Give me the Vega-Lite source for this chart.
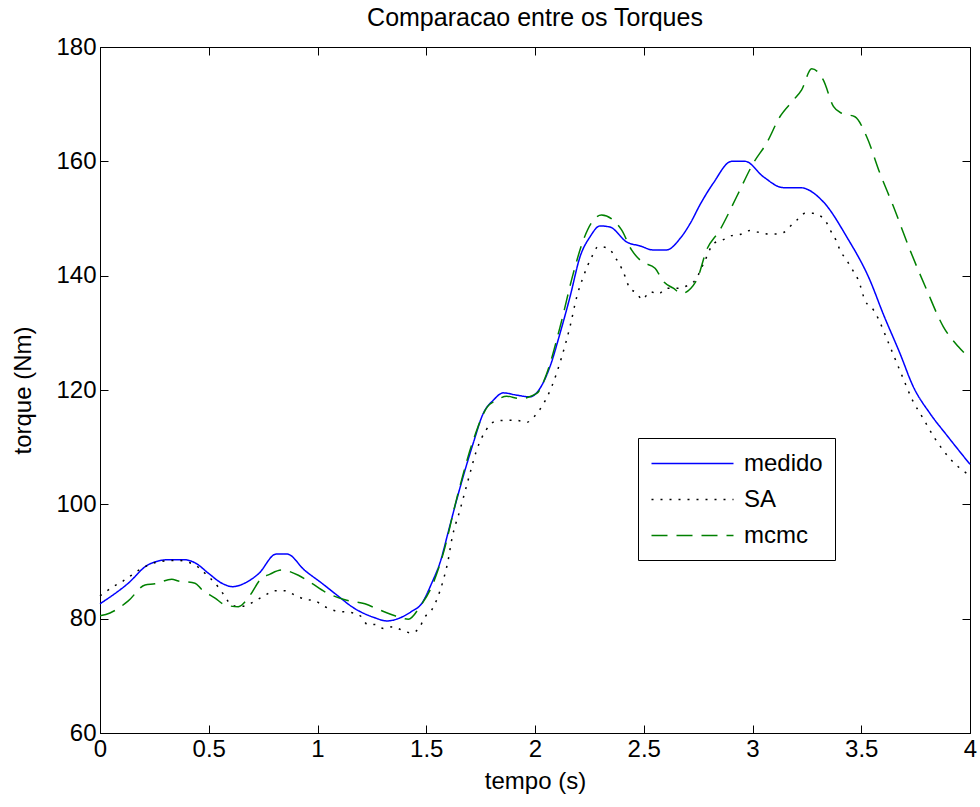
{
  "$schema": "https://vega.github.io/schema/vega-lite/v6.json",
  "width": 870,
  "height": 686,
  "autosize": {"type": "none"},
  "padding": {"left": 100, "top": 47, "right": 10, "bottom": 74},
  "background": "white",
  "title": {"text": "Comparacao entre os Torques", "fontSize": 25, "fontWeight": "normal", "font": "Liberation Sans", "color": "black", "anchor": "middle", "offset": 4},
  "config": {
    "view": {"stroke": "black", "strokeWidth": 1},
    "axis": {"grid": false, "domainColor": "black", "tickColor": "black", "labelColor": "black", "titleColor": "black", "labelFont": "Liberation Sans", "titleFont": "Liberation Sans", "labelFontSize": 24, "titleFontSize": 24, "titleFontWeight": "normal", "tickSize": -8, "labelPadding": 12},
    "legend": {"labelFont": "Liberation Sans", "labelFontSize": 24, "labelColor": "black"}
  },
  "data": {"values": [
    {"t":0,"v":82.6,"s":"medido"},{"t":0.13,"v":86.2,"s":"medido"},{"t":0.22,"v":89.4,"s":"medido"},{"t":0.31,"v":90.3,"s":"medido"},{"t":0.39,"v":90.3,"s":"medido"},{"t":0.44,"v":89.7,"s":"medido"},{"t":0.5,"v":87.9,"s":"medido"},{"t":0.56,"v":86.2,"s":"medido"},{"t":0.61,"v":85.6,"s":"medido"},{"t":0.67,"v":86.3,"s":"medido"},{"t":0.73,"v":87.9,"s":"medido"},{"t":0.81,"v":91.3,"s":"medido"},{"t":0.86,"v":91.3,"s":"medido"},{"t":0.94,"v":88.5,"s":"medido"},{"t":1.02,"v":86.2,"s":"medido"},{"t":1.08,"v":84.4,"s":"medido"},{"t":1.17,"v":81.8,"s":"medido"},{"t":1.26,"v":80.2,"s":"medido"},{"t":1.32,"v":79.6,"s":"medido"},{"t":1.37,"v":80.0,"s":"medido"},{"t":1.43,"v":81.2,"s":"medido"},{"t":1.48,"v":82.7,"s":"medido"},{"t":1.525,"v":86.2,"s":"medido"},{"t":1.565,"v":90.0,"s":"medido"},{"t":1.6,"v":95.0,"s":"medido"},{"t":1.64,"v":100.8,"s":"medido"},{"t":1.716,"v":110.7,"s":"medido"},{"t":1.762,"v":115.9,"s":"medido"},{"t":1.808,"v":118.2,"s":"medido"},{"t":1.854,"v":119.5,"s":"medido"},{"t":1.916,"v":119.1,"s":"medido"},{"t":1.977,"v":118.8,"s":"medido"},{"t":2.023,"v":120.3,"s":"medido"},{"t":2.069,"v":124.1,"s":"medido"},{"t":2.115,"v":129.9,"s":"medido"},{"t":2.161,"v":136.3,"s":"medido"},{"t":2.207,"v":143.3,"s":"medido"},{"t":2.253,"v":146.8,"s":"medido"},{"t":2.299,"v":148.7,"s":"medido"},{"t":2.345,"v":148.5,"s":"medido"},{"t":2.421,"v":145.9,"s":"medido"},{"t":2.483,"v":145.2,"s":"medido"},{"t":2.544,"v":144.5,"s":"medido"},{"t":2.605,"v":144.5,"s":"medido"},{"t":2.667,"v":146.5,"s":"medido"},{"t":2.713,"v":149.1,"s":"medido"},{"t":2.76,"v":152.5,"s":"medido"},{"t":2.82,"v":156.2,"s":"medido"},{"t":2.904,"v":160.0,"s":"medido"},{"t":2.966,"v":160.0,"s":"medido"},{"t":3.05,"v":157.3,"s":"medido"},{"t":3.142,"v":155.4,"s":"medido"},{"t":3.218,"v":155.4,"s":"medido"},{"t":3.326,"v":152.9,"s":"medido"},{"t":3.433,"v":146.8,"s":"medido"},{"t":3.54,"v":139.2,"s":"medido"},{"t":3.6,"v":133.4,"s":"medido"},{"t":3.678,"v":126.4,"s":"medido"},{"t":3.739,"v":120.6,"s":"medido"},{"t":3.816,"v":115.9,"s":"medido"},{"t":3.893,"v":112.1,"s":"medido"},{"t":4.0,"v":107.0,"s":"medido"},
    {"t":0,"v":84.0,"s":"SA"},{"t":0.061,"v":85.6,"s":"SA"},{"t":0.107,"v":86.6,"s":"SA"},{"t":0.192,"v":88.8,"s":"SA"},{"t":0.276,"v":90.0,"s":"SA"},{"t":0.35,"v":90.2,"s":"SA"},{"t":0.437,"v":89.4,"s":"SA"},{"t":0.475,"v":88.2,"s":"SA"},{"t":0.54,"v":85.7,"s":"SA"},{"t":0.567,"v":84.3,"s":"SA"},{"t":0.605,"v":82.4,"s":"SA"},{"t":0.636,"v":82.1,"s":"SA"},{"t":0.679,"v":82.4,"s":"SA"},{"t":0.713,"v":83.1,"s":"SA"},{"t":0.759,"v":84.1,"s":"SA"},{"t":0.805,"v":84.9,"s":"SA"},{"t":0.851,"v":84.9,"s":"SA"},{"t":0.897,"v":84.1,"s":"SA"},{"t":0.943,"v":83.4,"s":"SA"},{"t":0.989,"v":83.1,"s":"SA"},{"t":1.034,"v":82.1,"s":"SA"},{"t":1.08,"v":81.4,"s":"SA"},{"t":1.165,"v":81.0,"s":"SA"},{"t":1.203,"v":80.3,"s":"SA"},{"t":1.229,"v":79.0,"s":"SA"},{"t":1.264,"v":79.0,"s":"SA"},{"t":1.303,"v":78.3,"s":"SA"},{"t":1.349,"v":78.6,"s":"SA"},{"t":1.387,"v":78.0,"s":"SA"},{"t":1.433,"v":77.5,"s":"SA"},{"t":1.471,"v":78.6,"s":"SA"},{"t":1.494,"v":80.3,"s":"SA"},{"t":1.525,"v":81.5,"s":"SA"},{"t":1.548,"v":83.3,"s":"SA"},{"t":1.578,"v":86.7,"s":"SA"},{"t":1.601,"v":90.3,"s":"SA"},{"t":1.617,"v":93.8,"s":"SA"},{"t":1.655,"v":99.0,"s":"SA"},{"t":1.693,"v":104.3,"s":"SA"},{"t":1.732,"v":109.5,"s":"SA"},{"t":1.775,"v":113.0,"s":"SA"},{"t":1.816,"v":114.5,"s":"SA"},{"t":1.87,"v":114.7,"s":"SA"},{"t":1.915,"v":114.7,"s":"SA"},{"t":1.959,"v":114.3,"s":"SA"},{"t":1.995,"v":115.3,"s":"SA"},{"t":2.031,"v":117.1,"s":"SA"},{"t":2.077,"v":120.6,"s":"SA"},{"t":2.123,"v":125.8,"s":"SA"},{"t":2.161,"v":131.1,"s":"SA"},{"t":2.192,"v":136.3,"s":"SA"},{"t":2.222,"v":139.8,"s":"SA"},{"t":2.261,"v":143.3,"s":"SA"},{"t":2.291,"v":145.1,"s":"SA"},{"t":2.337,"v":144.8,"s":"SA"},{"t":2.372,"v":143.0,"s":"SA"},{"t":2.398,"v":141.3,"s":"SA"},{"t":2.418,"v":139.5,"s":"SA"},{"t":2.435,"v":137.8,"s":"SA"},{"t":2.467,"v":137.0,"s":"SA"},{"t":2.493,"v":135.8,"s":"SA"},{"t":2.529,"v":137.2,"s":"SA"},{"t":2.567,"v":136.8,"s":"SA"},{"t":2.605,"v":137.8,"s":"SA"},{"t":2.651,"v":137.8,"s":"SA"},{"t":2.697,"v":138.2,"s":"SA"},{"t":2.736,"v":139.2,"s":"SA"},{"t":2.782,"v":142.7,"s":"SA"},{"t":2.82,"v":145.6,"s":"SA"},{"t":2.866,"v":146.3,"s":"SA"},{"t":2.904,"v":147.0,"s":"SA"},{"t":2.943,"v":147.2,"s":"SA"},{"t":2.989,"v":147.9,"s":"SA"},{"t":3.027,"v":147.6,"s":"SA"},{"t":3.073,"v":147.3,"s":"SA"},{"t":3.111,"v":147.3,"s":"SA"},{"t":3.145,"v":147.6,"s":"SA"},{"t":3.175,"v":148.7,"s":"SA"},{"t":3.203,"v":149.7,"s":"SA"},{"t":3.241,"v":150.9,"s":"SA"},{"t":3.279,"v":150.9,"s":"SA"},{"t":3.333,"v":149.7,"s":"SA"},{"t":3.36,"v":147.8,"s":"SA"},{"t":3.384,"v":146.2,"s":"SA"},{"t":3.402,"v":144.5,"s":"SA"},{"t":3.433,"v":142.7,"s":"SA"},{"t":3.46,"v":141.0,"s":"SA"},{"t":3.487,"v":139.2,"s":"SA"},{"t":3.517,"v":135.7,"s":"SA"},{"t":3.556,"v":134.0,"s":"SA"},{"t":3.578,"v":132.5,"s":"SA"},{"t":3.617,"v":129.0,"s":"SA"},{"t":3.655,"v":125.5,"s":"SA"},{"t":3.693,"v":122.0,"s":"SA"},{"t":3.732,"v":118.5,"s":"SA"},{"t":3.785,"v":115.0,"s":"SA"},{"t":3.839,"v":111.5,"s":"SA"},{"t":3.908,"v":108.0,"s":"SA"},{"t":4.0,"v":105.0,"s":"SA"},
    {"t":0,"v":80.5,"s":"mcmc"},{"t":0.046,"v":81.0,"s":"mcmc"},{"t":0.13,"v":83.1,"s":"mcmc"},{"t":0.207,"v":85.9,"s":"mcmc"},{"t":0.253,"v":86.1,"s":"mcmc"},{"t":0.33,"v":86.9,"s":"mcmc"},{"t":0.36,"v":86.6,"s":"mcmc"},{"t":0.437,"v":86.2,"s":"mcmc"},{"t":0.468,"v":85.1,"s":"mcmc"},{"t":0.529,"v":83.6,"s":"mcmc"},{"t":0.575,"v":82.4,"s":"mcmc"},{"t":0.636,"v":82.1,"s":"mcmc"},{"t":0.69,"v":84.1,"s":"mcmc"},{"t":0.736,"v":86.8,"s":"mcmc"},{"t":0.782,"v":87.8,"s":"mcmc"},{"t":0.835,"v":88.5,"s":"mcmc"},{"t":0.912,"v":87.6,"s":"mcmc"},{"t":0.973,"v":86.2,"s":"mcmc"},{"t":1.034,"v":84.7,"s":"mcmc"},{"t":1.126,"v":83.3,"s":"mcmc"},{"t":1.218,"v":82.6,"s":"mcmc"},{"t":1.287,"v":81.5,"s":"mcmc"},{"t":1.356,"v":80.5,"s":"mcmc"},{"t":1.418,"v":79.9,"s":"mcmc"},{"t":1.471,"v":82.1,"s":"mcmc"},{"t":1.525,"v":85.6,"s":"mcmc"},{"t":1.578,"v":91.4,"s":"mcmc"},{"t":1.64,"v":101.0,"s":"mcmc"},{"t":1.716,"v":111.2,"s":"mcmc"},{"t":1.78,"v":117.0,"s":"mcmc"},{"t":1.823,"v":118.2,"s":"mcmc"},{"t":1.87,"v":118.9,"s":"mcmc"},{"t":1.931,"v":118.5,"s":"mcmc"},{"t":2.008,"v":119.4,"s":"mcmc"},{"t":2.054,"v":122.9,"s":"mcmc"},{"t":2.115,"v":131.0,"s":"mcmc"},{"t":2.176,"v":140.4,"s":"mcmc"},{"t":2.222,"v":146.2,"s":"mcmc"},{"t":2.268,"v":149.7,"s":"mcmc"},{"t":2.306,"v":150.6,"s":"mcmc"},{"t":2.36,"v":149.7,"s":"mcmc"},{"t":2.398,"v":148.0,"s":"mcmc"},{"t":2.444,"v":144.5,"s":"mcmc"},{"t":2.49,"v":142.5,"s":"mcmc"},{"t":2.552,"v":141.3,"s":"mcmc"},{"t":2.59,"v":139.0,"s":"mcmc"},{"t":2.636,"v":137.8,"s":"mcmc"},{"t":2.674,"v":136.9,"s":"mcmc"},{"t":2.743,"v":139.2,"s":"mcmc"},{"t":2.789,"v":144.5,"s":"mcmc"},{"t":2.85,"v":148.0,"s":"mcmc"},{"t":2.927,"v":153.8,"s":"mcmc"},{"t":3.004,"v":159.7,"s":"mcmc"},{"t":3.065,"v":163.2,"s":"mcmc"},{"t":3.126,"v":167.8,"s":"mcmc"},{"t":3.188,"v":170.7,"s":"mcmc"},{"t":3.226,"v":172.5,"s":"mcmc"},{"t":3.272,"v":176.2,"s":"mcmc"},{"t":3.326,"v":174.2,"s":"mcmc"},{"t":3.372,"v":169.6,"s":"mcmc"},{"t":3.41,"v":168.4,"s":"mcmc"},{"t":3.471,"v":167.8,"s":"mcmc"},{"t":3.525,"v":164.3,"s":"mcmc"},{"t":3.586,"v":157.9,"s":"mcmc"},{"t":3.648,"v":152.1,"s":"mcmc"},{"t":3.724,"v":144.5,"s":"mcmc"},{"t":3.801,"v":137.5,"s":"mcmc"},{"t":3.877,"v":131.1,"s":"mcmc"},{"t":3.946,"v":127.6,"s":"mcmc"},{"t":4.0,"v":125.5,"s":"mcmc"}
  ]},
  "layer": [
    {
      "mark": {"type": "line", "strokeWidth": 1.5, "interpolate": "monotone"},
      "encoding": {
        "x": {"field": "t", "type": "quantitative", "scale": {"domain": [0, 4], "nice": false}, "axis": {"title": "tempo (s)", "values": [0, 0.5, 1, 1.5, 2, 2.5, 3, 3.5, 4], "format": "~g", "titlePadding": 8, "labelFlush": false}},
        "y": {"field": "v", "type": "quantitative", "scale": {"domain": [60, 180], "nice": false, "zero": false}, "axis": {"title": "torque (Nm)", "values": [60, 80, 100, 120, 140, 160, 180], "titlePadding": 20, "labelFlush": false}},
        "color": {"field": "s", "type": "nominal", "scale": {"domain": ["medido", "SA", "mcmc"], "range": ["#0000ff", "#000000", "#008000"]}, "legend": {"title": null, "orient": "none", "legendX": 538, "legendY": 391, "symbolType": "M-3.28,0L3.28,0", "symbolSize": 625, "symbolStrokeWidth": 1.5, "symbolOffset": 29, "labelOffset": 38, "strokeColor": "black", "fillColor": "white", "padding": 12, "rowPadding": 10}},
        "strokeDash": {"field": "s", "type": "nominal", "scale": {"domain": ["medido", "SA", "mcmc"], "range": [[1, 0], [2, 7], [16, 9]]}, "legend": {"title": null, "orient": "none", "legendX": 538, "legendY": 391, "symbolType": "M-3.28,0L3.28,0", "symbolSize": 625, "symbolStrokeWidth": 1.5, "symbolOffset": 29, "labelOffset": 38, "strokeColor": "black", "fillColor": "white", "padding": 12, "rowPadding": 10}},
        "detail": {"field": "s"}
      }
    },
    {
      "mark": {"type": "line", "opacity": 0},
      "encoding": {
        "x": {"field": "t", "type": "quantitative", "axis": {"orient": "top", "labels": false, "title": null, "domain": false, "values": [0, 0.5, 1, 1.5, 2, 2.5, 3, 3.5, 4]}},
        "y": {"field": "v", "type": "quantitative", "axis": {"orient": "right", "labels": false, "title": null, "domain": false, "values": [60, 80, 100, 120, 140, 160, 180]}}
      }
    }
  ],
  "resolve": {"axis": {"x": "independent", "y": "independent"}}
}
